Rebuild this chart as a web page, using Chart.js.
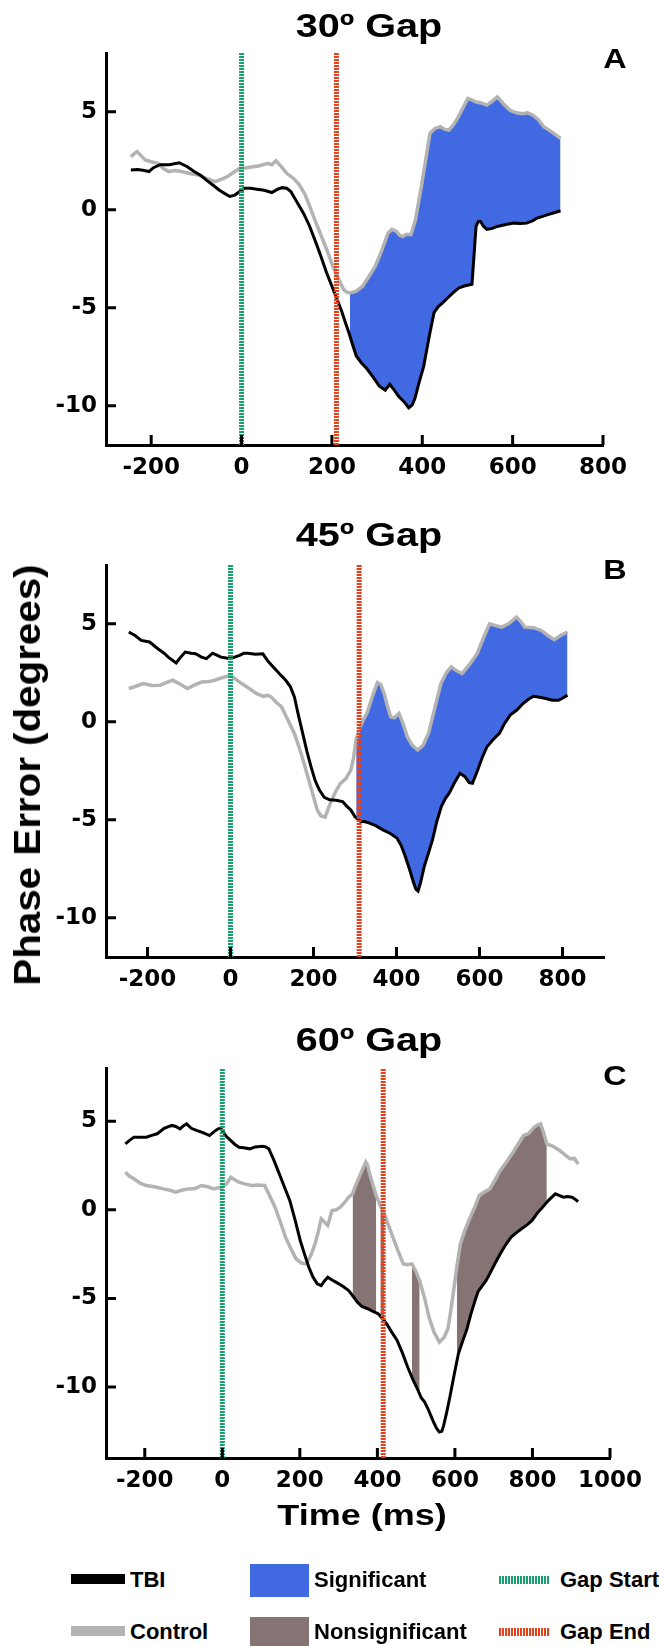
<!DOCTYPE html>
<html>
<head>
<meta charset="utf-8">
<script src="https://cdn.jsdelivr.net/npm/chart.js@4.4.1/dist/chart.umd.min.js"></script>
<style>
  body { margin: 0; background: #fff; }
  #page { position: relative; width: 659px; height: 1646px; overflow: hidden; background: #fff;
          font-family: "Liberation Sans", Arial, sans-serif; font-weight: bold; color: #000; }
  canvas { position: absolute; left: 0; }
  .t { position: absolute; white-space: nowrap; line-height: 1; }
  .title { font-size: 33px; transform: translate(-50%, -50%) scaleX(1.2); }
  .letter { font-size: 27px; transform: translate(-50%, -50%) scaleX(1.2); }
  .lg { font-size: 22px; transform: translateY(-50%); }
  .sw { position: absolute; }
</style>
</head>
<body>
<div id="page">
  <canvas id="chartA" width="659" height="500" style="top:0"></canvas>
  <canvas id="chartB" width="659" height="500" style="top:500px"></canvas>
  <canvas id="chartC" width="659" height="500" style="top:1000px"></canvas>

  <div class="t title" style="left:369px; top:25px">30º Gap</div>
  <div class="t title" style="left:369px; top:534px">45º Gap</div>
  <div class="t title" style="left:369px; top:1039px">60º Gap</div>
  <div class="t letter" style="left:615px; top:59px">A</div>
  <div class="t letter" style="left:615px; top:570px">B</div>
  <div class="t letter" style="left:615px; top:1076px">C</div>

  <div class="t" style="left:28px; top:775px; font-size:36px; transform: translate(-50%, -50%) rotate(-90deg) scaleX(1.12)">Phase Error (degrees)</div>
  <div class="t" style="left:362px; top:1515px; font-size:30px; transform: translate(-50%, -50%) scaleX(1.2)">Time (ms)</div>

  <!-- legend -->
  <div class="sw" style="left:71px; top:1574px; width:54px; height:10px; background:#000"></div>
  <div class="t lg" style="left:130px; top:1580px">TBI</div>
  <div class="sw" style="left:71px; top:1626px; width:54px; height:10px; background:#b3b3b3"></div>
  <div class="t lg" style="left:130px; top:1632px">Control</div>

  <div class="sw" style="left:250px; top:1564px; width:59px; height:33px; background:#4169e1"></div>
  <div class="t lg" style="left:314px; top:1580px">Significant</div>
  <div class="sw" style="left:250px; top:1617px; width:59px; height:33px; background:#867474"></div>
  <div class="t lg" style="left:314px; top:1632px">Nonsignificant</div>

  <div class="sw" style="left:499px; top:1576px; width:51px; height:8px; background:repeating-linear-gradient(90deg,#15a06d 0 2px,#fff 2px 3px)"></div>
  <div class="t lg" style="left:560px; top:1580px">Gap Start</div>
  <div class="sw" style="left:499px; top:1628px; width:51px; height:8px; background:repeating-linear-gradient(90deg,#e4421d 0 2px,#fff 2px 3px)"></div>
  <div class="t lg" style="left:560px; top:1632px">Gap End</div>
</div>

<script>
// ---- data (time in ms, phase error in degrees) ----

// 30º gap
const tbiTimeA = [-245,-230,-215,-205,-195,-180,-160,-138,-120,-105,-90,-77,-60,-49,-35,-26,-15,-7,6,20,34,50,67,80,90,100,109,120,137,150,165,176,188,200,212,222,230,238,246,254,265,277,290,305,318,328,338,347,360,370,378,384,393,403,415,426,435,445,456,468,480,491,500,510,514,519,524,529,536,543,555,566,585,603,618,631,645,654,665,678,692,706];
const tbiA = [2.03,2.05,2.0,1.95,2.15,2.3,2.3,2.4,2.2,1.95,1.75,1.5,1.2,1.0,0.8,0.68,0.75,0.88,1.1,1.1,1.05,1.0,0.88,1.05,1.13,1.1,0.93,0.5,-0.17,-0.8,-1.7,-2.4,-3.2,-3.9,-4.6,-5.2,-5.76,-6.3,-6.9,-7.46,-7.8,-8.1,-8.5,-9.0,-9.2,-8.9,-9.2,-9.5,-9.8,-10.1,-9.95,-9.6,-8.8,-8.0,-6.5,-5.25,-4.95,-4.75,-4.5,-4.24,-4.0,-3.9,-3.85,-3.8,-2.5,-0.85,-0.6,-0.6,-0.85,-1.0,-0.95,-0.85,-0.75,-0.68,-0.7,-0.68,-0.55,-0.42,-0.35,-0.25,-0.15,-0.05];
const ctlTimeA = [-245,-238,-231,-222,-213,-200,-185,-173,-161,-147,-133,-115,-96,-78,-59,-45,-31,-15,-3,12,25,40,58,67,76,88,100,115,128,140,151,162,174,188,202,214,226,233,240,254,268,282,296,310,324,333,343,350,357,365,375,385,398,408,417,428,440,450,459,468,478,490,501,510,519,530,543,555,566,580,594,608,622,633,645,657,669,688,706];
const ctlA = [2.71,2.85,2.97,2.75,2.54,2.45,2.37,2.1,1.95,2.0,1.95,1.85,1.78,1.6,1.44,1.55,1.7,1.95,2.12,2.15,2.2,2.25,2.37,2.3,2.5,2.2,1.86,1.6,1.27,0.8,0.17,-0.5,-1.19,-2.0,-2.88,-3.5,-4.07,-4.2,-4.24,-4.15,-3.9,-3.4,-2.88,-2.1,-1.19,-1.0,-1.1,-1.3,-1.36,-1.25,-1.27,-0.5,1.19,2.6,3.9,4.15,4.24,4.1,4.07,4.3,4.66,5.2,5.68,5.6,5.5,5.45,5.34,5.55,5.76,5.4,5.08,4.95,4.9,4.95,4.83,4.6,4.24,3.95,3.64];

// 45º gap
const tbiTimeB = [-245,-230,-215,-195,-175,-160,-150,-131,-120,-109,-95,-84,-70,-58,-43,-33,-23,-10,0,10,22,32,42,60,78,90,103,118,133,144,154,164,174,184,194,204,214,226,239,255,270,280,290,300,313,325,335,350,366,385,401,411,421,431,441,447,452,458,467,477,487,497,508,518,527,540,553,565,575,583,595,607,618,633,648,660,674,690,705,718,730,745,760,775,790,800,812];
const tbiB = [4.58,4.4,4.15,4.07,3.73,3.5,3.3,3.0,3.3,3.56,3.5,3.47,3.3,3.22,3.5,3.4,3.3,3.25,3.22,3.3,3.39,3.5,3.5,3.45,3.47,3.1,2.8,2.45,2.12,1.8,1.27,0.3,-0.59,-1.5,-2.29,-3.0,-3.47,-3.85,-3.98,-4.0,-4.07,-4.3,-4.5,-4.85,-5.08,-5.1,-5.17,-5.3,-5.5,-5.7,-5.93,-6.3,-6.86,-7.5,-8.2,-8.55,-8.64,-8.2,-7.37,-6.7,-6.0,-5.1,-4.32,-3.9,-3.64,-3.1,-2.63,-2.8,-3.1,-3.14,-2.5,-1.8,-1.27,-0.9,-0.59,-0.1,0.34,0.6,0.93,1.15,1.3,1.25,1.19,1.1,1.1,1.2,1.36];
const ctlTimeB = [-245,-230,-210,-190,-170,-155,-139,-120,-104,-85,-69,-52,-38,-20,0,14,27,45,63,80,90,98,110,123,138,154,170,184,197,209,218,228,236,244,255,265,278,290,296,303,310,320,330,342,354,362,371,378,386,395,406,416,426,438,451,464,477,490,507,520,532,545,558,575,594,608,624,640,654,670,689,700,709,730,749,765,780,795,812];
const ctlB = [1.7,1.8,1.95,1.85,1.86,2.0,2.12,1.9,1.7,1.9,2.03,2.05,2.12,2.25,2.37,2.15,1.95,1.7,1.44,1.3,1.35,1.27,1.0,0.76,0.1,-0.59,-1.6,-2.63,-3.6,-4.49,-4.8,-4.86,-4.4,-3.98,-3.5,-3.14,-2.9,-2.46,-1.9,-0.9,-0.4,0.1,0.5,1.3,2.0,1.9,1.4,0.8,0.25,0.2,0.42,-0.1,-0.76,-1.2,-1.44,-1.2,-0.59,0.5,1.95,2.5,2.8,2.6,2.46,2.9,3.47,4.2,5.0,4.9,4.83,5.0,5.34,5.1,4.83,4.8,4.66,4.4,4.19,4.4,4.58];

// 60º gap
const tbiTimeC = [-250,-240,-228,-212,-196,-182,-168,-150,-130,-120,-109,-100,-92,-80,-65,-50,-33,-22,-11,-4,0,10,22,32,43,55,71,85,103,112,120,133,147,160,174,188,201,212,223,234,245,255,264,272,282,293,310,326,338,348,360,375,390,402,412,424,437,451,465,478,492,505,513,522,532,543,552,560,566,571,579,587,598,609,620,630,641,652,660,668,680,690,704,717,730,745,758,772,786,799,812,826,842,859,870,880,890,902,910,918];
const tbiC = [3.72,3.9,4.1,4.1,4.1,4.2,4.29,4.6,4.76,4.7,4.57,4.75,4.85,4.6,4.47,4.35,4.19,4.4,4.57,4.6,4.47,4.15,3.9,3.7,3.53,3.5,3.44,3.55,3.59,3.55,3.44,2.8,2.03,1.3,0.53,-0.6,-1.73,-2.5,-3.23,-3.8,-4.17,-4.27,-4.0,-3.8,-3.95,-4.08,-4.3,-4.55,-4.9,-5.2,-5.45,-5.58,-5.75,-5.86,-6.1,-6.43,-6.9,-7.37,-8.1,-8.87,-9.6,-10.19,-10.6,-10.85,-11.3,-11.88,-12.3,-12.54,-12.5,-12.16,-11.4,-10.56,-9.3,-8.12,-7.4,-6.8,-5.9,-5.11,-4.6,-4.36,-4.0,-3.6,-3.0,-2.48,-2.0,-1.54,-1.3,-1.07,-0.85,-0.6,-0.2,0.15,0.55,0.9,0.8,0.71,0.75,0.71,0.6,0.47];
const ctlTimeC = [-250,-240,-228,-212,-196,-175,-152,-135,-120,-105,-87,-70,-54,-38,-22,-10,0,12,22,32,43,60,76,92,109,122,136,150,163,177,190,204,217,228,239,248,255,264,272,283,294,304,315,326,336,342,356,370,375,380,390,397,402,408,418,429,440,453,467,478,489,500,509,522,533,546,560,572,582,590,598,605,614,625,636,650,663,676,690,704,717,733,750,763,777,790,804,814,821,828,837,852,870,884,897,908,918];
const ctlC = [2.12,1.9,1.75,1.5,1.37,1.3,1.18,1.1,1.0,1.1,1.18,1.2,1.37,1.3,1.18,1.25,1.28,1.5,1.84,1.7,1.56,1.45,1.37,1.4,1.37,0.8,0.15,-0.7,-1.54,-2.2,-2.76,-3.0,-3.05,-2.6,-1.92,-1.2,-0.51,-0.7,-0.88,-0.04,0.0,0.15,0.4,0.71,0.9,1.28,2.0,2.69,2.5,2.03,1.3,0.8,0.53,0.2,-0.23,-0.9,-1.54,-2.3,-3.05,-3.1,-3.05,-3.5,-4.0,-5.0,-6.05,-6.9,-7.46,-7.2,-6.71,-5.6,-4.36,-3.2,-1.92,-1.2,-0.6,0.1,0.81,1.0,1.18,1.7,2.22,2.7,3.25,3.7,4.19,4.3,4.66,4.8,4.85,4.4,3.72,3.6,3.35,3.1,2.88,2.9,2.59];

// gap markers (start, end) and shaded windows
const gapsA = [0, 210];
const gapsB = [0, 310];
const gapsC = [0, 415];
const sigA = [[240, 706]];
const sigB = [[303, 812]];
const nonsigC = [[336, 397], [408, 418], [489, 509], [605, 837]];

// axes
const yTicks = [-10, -5, 0, 5];
const xTicksAB = [-200, 0, 200, 400, 600, 800];
const xTicksC = [-200, 0, 200, 400, 600, 800, 1000];

const TBI_COLOR = '#000000';
const CTL_COLOR = '#b3b3b3';
const SIG_COLOR = '#4169e1';
const NONSIG_COLOR = '#867474';
const START_COLOR = '#15a06d';
const END_COLOR = '#e4421d';

const pts = (xs, ys) => xs.map((x, i) => ({ x, y: ys[i] }));

// tick marks point into the plot in the original
const innerTicks = {
  id: 'innerTicks',
  afterDraw(chart) {
    const { ctx, chartArea: a, scales: { x, y } } = chart;
    ctx.save();
    ctx.strokeStyle = '#000';
    ctx.lineWidth = 3;
    ctx.beginPath();
    x.ticks.forEach(t => {
      const px = x.getPixelForValue(t.value);
      ctx.moveTo(px, a.bottom);
      ctx.lineTo(px, a.bottom - 10);
    });
    y.ticks.forEach(t => {
      const py = y.getPixelForValue(t.value);
      ctx.moveTo(a.left, py);
      ctx.lineTo(a.left + 10, py);
    });
    ctx.stroke();
    ctx.restore();
  }
};

function makePanel(id, p) {
  const H = 500;
  const datasets = [
    { data: pts(p.tbiT, p.tbi), borderColor: TBI_COLOR, borderWidth: 3, order: 1 },
    { data: pts(p.ctlT, p.ctl), borderColor: CTL_COLOR, borderWidth: 3.5, order: 2 },
  ];
  p.gaps.forEach((g, i) => {
    datasets.push({
      data: [{ x: g, y: p.yMin }, { x: g, y: p.yMax }],
      borderColor: i === 0 ? START_COLOR : END_COLOR,
      borderWidth: 5,
      borderDash: [2, 1],
      borderCapStyle: 'butt',
      order: 0,
    });
  });
  p.shade.forEach(r => {
    datasets.push({
      data: pts(p.ctlT, p.ctl).filter(d => d.x >= r[0] && d.x <= r[1]),
      borderColor: 'rgba(0,0,0,0)',
      borderWidth: 0,
      backgroundColor: p.shadeColor,
      fill: 0,
      order: 3,
    });
  });

  const tickFont = { family: 'DejaVu Sans', weight: 'bold', size: 23 };

  new Chart(document.getElementById(id), {
    type: 'line',
    data: { datasets },
    plugins: [innerTicks],
    options: {
      responsive: false,
      animation: false,
      events: [],
      layout: { padding: { left: 0, right: 659 - p.right, top: p.top, bottom: 0 } },
      elements: { point: { radius: 0 }, line: { tension: 0 } },
      plugins: { legend: { display: false }, tooltip: { enabled: false } },
      scales: {
        x: {
          type: 'linear',
          min: p.xMin,
          max: p.xMax,
          afterBuildTicks: s => { s.ticks = p.xTicks.map(v => ({ value: v })); },
          afterFit: s => { s.height = H - p.bottom; },
          grid: { display: false, drawTicks: false },
          border: { display: true, color: '#000', width: 3 },
          ticks: { color: '#000', padding: 9, maxRotation: 0, font: tickFont,
                   callback: v => String(v) },
        },
        y: {
          type: 'linear',
          min: p.yMin,
          max: p.yMax,
          afterBuildTicks: s => { s.ticks = yTicks.map(v => ({ value: v })); },
          afterFit: s => { s.width = 106; },
          grid: { display: false, drawTicks: false },
          border: { display: true, color: '#000', width: 3 },
          ticks: { color: '#000', padding: 9, font: tickFont, callback: v => String(v) },
        },
      },
    },
  });
}

makePanel('chartA', { tbiT: tbiTimeA, tbi: tbiA, ctlT: ctlTimeA, ctl: ctlA, gaps: gapsA,
  shade: sigA, shadeColor: SIG_COLOR, xMin: -300, xMax: 800, xTicks: xTicksAB,
  yMin: -12, yMax: 8, top: 53, bottom: 445, right: 603 });
makePanel('chartB', { tbiT: tbiTimeB, tbi: tbiB, ctlT: ctlTimeB, ctl: ctlB, gaps: gapsB,
  shade: sigB, shadeColor: SIG_COLOR, xMin: -300, xMax: 900, xTicks: xTicksAB,
  yMin: -12, yMax: 8, top: 65, bottom: 457, right: 604 });
makePanel('chartC', { tbiT: tbiTimeC, tbi: tbiC, ctlT: ctlTimeC, ctl: ctlC, gaps: gapsC,
  shade: nonsigC, shadeColor: NONSIG_COLOR, xMin: -300, xMax: 1000, xTicks: xTicksC,
  yMin: -14, yMax: 8, top: 68, bottom: 458, right: 610 });
</script>
</body>
</html>
